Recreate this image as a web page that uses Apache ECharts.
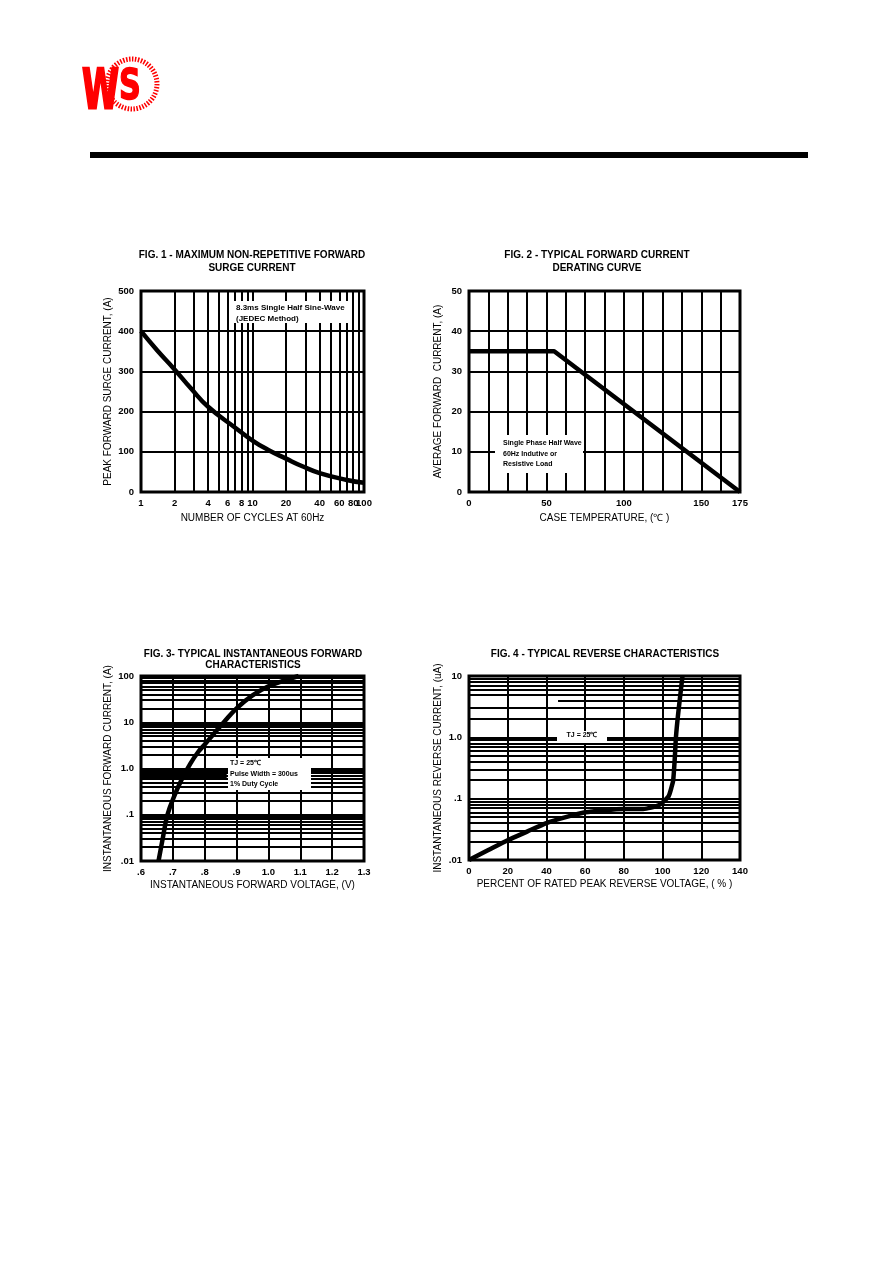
<!DOCTYPE html>
<html>
<head>
<meta charset="utf-8">
<title>WS - characteristic curves</title>
<script src="https://cdn.jsdelivr.net/npm/echarts@6/dist/echarts.min.js"></script>
<style>
html, body { margin: 0; padding: 0; background: #fff; }
#main { width: 892px; height: 1263px; }
</style>
</head>
<body>
<div id="main"></div>
<script>
// FIG.1 surge current vs number of cycles
var surgeCycles = [1, 1.4, 2, 2.8, 4, 7, 10, 14, 20, 28, 40, 70, 100];
var surgeAmps   = [400, 352, 305, 258, 212, 160, 128, 104, 83, 64, 47, 30, 23];
var fig1XLabels = [1, 2, 4, 6, 8, 10, 20, 40, 60, 80, 100];
var fig1MinorX  = [2, 3, 4, 5, 6, 7, 8, 9, 20, 30, 40, 50, 60, 70, 80, 90];

// FIG.2 derating curve
var caseTemp  = [0, 55, 175];
var avgAmps   = [35, 35, 0];
var fig2XLabels = [0, 50, 100, 150, 175];

// FIG.3 forward characteristics
var fwdVolts = [0.655, 0.668, 0.683, 0.705, 0.73, 0.755, 0.78, 0.80, 0.83, 0.86, 0.90, 0.95, 1.0, 1.05, 1.095];
var fwdAmps  = [0.01, 0.03, 0.1, 0.26, 0.62, 1.28, 2.3, 3.3, 5.8, 10, 20, 38, 60, 80, 100];
var fig3YLabels = { '0.01': '.01', '0.1': '.1', '1': '1.0', '10': '10', '100': '100' };

// FIG.4 reverse characteristics
var revPercent = [0, 10, 20, 30, 40, 50, 60, 70, 80, 90, 98, 103, 104.7, 105.5, 106.3, 106.9, 108.1, 110.3];
var revMicroA  = [0.01, 0.0145, 0.021, 0.029, 0.04, 0.05, 0.06, 0.065, 0.068, 0.068, 0.078, 0.108, 0.157, 0.2, 0.45, 1.0, 2.5, 10];
var fig4YLabels = { '0.01': '.01', '0.1': '.1', '1': '1.0', '10': '10' };

var FONT = "'Liberation Sans', Arial, sans-serif";
var INK = '#000';

function logMinors(decades, skip) {
    var out = [];
    decades.forEach(function (d) {
        for (var k = 2; k <= 9; k++) {
            var v = +(k * d).toPrecision(3);
            if (skip && skip.indexOf(v) >= 0) continue;
            out.push(v);
        }
    });
    return out;
}

function gridMarks(list, dim) {
    return list.map(function (v) {
        var o = {};
        o[dim] = v;
        return o;
    });
}

var markBase = {
    silent: true,
    symbol: 'none',
    animation: false,
    label: { show: false },
    lineStyle: { color: INK, width: 2, type: 'solid', opacity: 1 },
    emphasis: { disabled: true }
};

function axisLabelStyle(extra) {
    var o = { color: INK, fontFamily: FONT, fontWeight: 'bold', fontSize: 9.5 };
    for (var k in extra) o[k] = extra[k];
    return o;
}
function nameStyle() {
    return { color: INK, fontFamily: FONT, fontSize: 10, fontWeight: 'normal' };
}
var splitBlack = { show: true, lineStyle: { color: INK, width: 2 } };

// fig1 vertical minor lines, some with labels under the axis
var fig1Marks = fig1MinorX.map(function (v) {
    var lab = fig1XLabels.indexOf(v) >= 0;
    return {
        xAxis: v,
        label: {
            show: lab, position: 'start', formatter: String(v), distance: 6,
            color: INK, fontFamily: FONT, fontWeight: 'bold', fontSize: 9.5
        }
    };
});

var fig4Minor = gridMarks(logMinors([0.01, 0.1, 1], [4]), 'yAxis');
fig4Minor.push([{ coord: [46, 4] }, { coord: [140, 4] }]);

var chart = echarts.init(document.getElementById('main'));

var option = {
    animation: false,
    backgroundColor: '#fff',
    grid: [
        { left: 141, top: 291, width: 223, height: 201, show: true, borderColor: INK, borderWidth: 3, backgroundColor: 'transparent' },
        { left: 469, top: 291, width: 271, height: 201, show: true, borderColor: INK, borderWidth: 3, backgroundColor: 'transparent' },
        { left: 141, top: 676, width: 223, height: 185, show: true, borderColor: INK, borderWidth: 3, backgroundColor: 'transparent' },
        { left: 469, top: 676, width: 271, height: 184, show: true, borderColor: INK, borderWidth: 3, backgroundColor: 'transparent' }
    ],
    xAxis: [
        {
            gridIndex: 0, type: 'log', logBase: 10, min: 1, max: 100,
            axisLine: { show: false }, axisTick: { show: false },
            splitLine: splitBlack,
            axisLabel: axisLabelStyle({ margin: 6 }),
            name: 'NUMBER OF CYCLES AT 60Hz', nameLocation: 'middle', nameGap: 21, nameTextStyle: nameStyle()
        },
        {
            gridIndex: 1, type: 'value', min: 0, max: 175, interval: 12.5,
            axisLine: { show: false }, axisTick: { show: false },
            splitLine: splitBlack,
            axisLabel: axisLabelStyle({
                margin: 6,
                formatter: function (v) { return fig2XLabels.indexOf(v) >= 0 ? String(v) : ''; }
            }),
            name: 'CASE TEMPERATURE, (\u2103 )', nameLocation: 'middle', nameGap: 21, nameTextStyle: nameStyle()
        },
        {
            gridIndex: 2, type: 'value', min: 0.6, max: 1.3, interval: 0.1,
            axisLine: { show: false }, axisTick: { show: false },
            splitLine: splitBlack,
            axisLabel: axisLabelStyle({
                margin: 6,
                formatter: function (v) { var s = v.toFixed(1); return v < 1 ? s.slice(1) : s; }
            }),
            name: 'INSTANTANEOUS FORWARD VOLTAGE, (V)', nameLocation: 'middle', nameGap: 19, nameTextStyle: nameStyle()
        },
        {
            gridIndex: 3, type: 'value', min: 0, max: 140, interval: 20,
            axisLine: { show: false }, axisTick: { show: false },
            splitLine: splitBlack,
            axisLabel: axisLabelStyle({ margin: 6 }),
            name: 'PERCENT OF RATED PEAK REVERSE VOLTAGE, ( % )', nameLocation: 'middle', nameGap: 19, nameTextStyle: nameStyle()
        }
    ],
    yAxis: [
        {
            gridIndex: 0, type: 'value', min: 0, max: 500, interval: 100,
            axisLine: { show: false }, axisTick: { show: false },
            splitLine: splitBlack,
            axisLabel: axisLabelStyle({ margin: 7 }),
            name: 'PEAK FORWARD SURGE CURRENT, (A)', nameLocation: 'middle', nameGap: 28, nameTextStyle: nameStyle()
        },
        {
            gridIndex: 1, type: 'value', min: 0, max: 50, interval: 10,
            axisLine: { show: false }, axisTick: { show: false },
            splitLine: splitBlack,
            axisLabel: axisLabelStyle({ margin: 7 }),
            name: 'AVERAGE FORWARD  CURRENT, (A)', nameLocation: 'middle', nameGap: 26, nameTextStyle: nameStyle()
        },
        {
            gridIndex: 2, type: 'log', logBase: 10, min: 0.01, max: 100,
            axisLine: { show: false }, axisTick: { show: false },
            splitLine: splitBlack,
            axisLabel: axisLabelStyle({
                margin: 7,
                formatter: function (v) { return fig3YLabels[String(+v.toPrecision(3))] || ''; }
            }),
            name: 'INSTANTANEOUS FORWARD CURRENT, (A)', nameLocation: 'middle', nameGap: 28, nameTextStyle: nameStyle()
        },
        {
            gridIndex: 3, type: 'log', logBase: 10, min: 0.01, max: 10,
            axisLine: { show: false }, axisTick: { show: false },
            splitLine: splitBlack,
            axisLabel: axisLabelStyle({
                margin: 7,
                formatter: function (v) { return fig4YLabels[String(+v.toPrecision(3))] || ''; }
            }),
            name: 'INSTANTANEOUS REVERSE CURRENT, (uA)', nameLocation: 'middle', nameGap: 26, nameTextStyle: nameStyle()
        }
    ],
    series: [
        {
            type: 'line', xAxisIndex: 0, yAxisIndex: 0, z: 5,
            data: surgeCycles.map(function (c, i) { return [c, surgeAmps[i]]; }),
            showSymbol: false, smooth: 0.5,
            lineStyle: { color: INK, width: 4.5 },
            markLine: Object.assign({}, markBase, { data: fig1Marks })
        },
        {
            type: 'line', xAxisIndex: 1, yAxisIndex: 1, z: 5,
            data: caseTemp.map(function (t, i) { return [t, avgAmps[i]]; }),
            showSymbol: false,
            lineStyle: { color: INK, width: 4.5 }
        },
        {
            type: 'line', xAxisIndex: 2, yAxisIndex: 2, z: 5,
            data: fwdVolts.map(function (v, i) { return [v, fwdAmps[i]]; }),
            showSymbol: false, smooth: 0.4,
            lineStyle: { color: INK, width: 4.5 },
            markLine: Object.assign({}, markBase, { data: gridMarks(logMinors([0.01, 0.1, 1, 10]), 'yAxis') }),
            markArea: {
                silent: true,
                itemStyle: { color: INK, opacity: 1 },
                data: [[{ coord: [0.6, 0.57] }, { coord: [0.869, 1.0] }]]
            }
        },
        {
            type: 'line', xAxisIndex: 3, yAxisIndex: 3, z: 5,
            data: revPercent.map(function (p, i) { return [p, revMicroA[i]]; }),
            showSymbol: false, smooth: 0.2,
            lineStyle: { color: INK, width: 4.5 },
            markLine: Object.assign({}, markBase, { data: fig4Minor })
        }
    ],
    graphic: [
        // logo
        { type: 'circle', shape: { cx: 132, cy: 84, r: 25 }, style: { fill: 'none', stroke: '#f00', lineWidth: 5, lineDash: [1.5, 1.5] }, z: 10 },
        { type: 'text', x: 82, y: 65, scaleX: 0.6, style: { text: 'W', fill: '#f00', stroke: '#f00', lineWidth: 2.5, font: "900 56px 'DejaVu Sans', sans-serif" }, z: 11 },
        { type: 'text', x: 119, y: 67, scaleX: 0.72, style: { text: 'S', fill: '#f00', stroke: '#f00', lineWidth: 1.5, font: "900 42px 'DejaVu Sans', sans-serif" }, z: 11 },
        // header bar
        { type: 'rect', shape: { x: 90, y: 152, width: 718, height: 6 }, style: { fill: INK }, z: 10 },

        // titles
        { type: 'text', x: 252, y: 249, style: { text: 'FIG. 1 - MAXIMUM NON-REPETITIVE FORWARD\nSURGE CURRENT', align: 'center', fill: INK, font: "bold 10px " + FONT, lineHeight: 13 }, z: 10 },
        { type: 'text', x: 597, y: 249, style: { text: 'FIG. 2 - TYPICAL FORWARD CURRENT\nDERATING CURVE', align: 'center', fill: INK, font: "bold 10px " + FONT, lineHeight: 13 }, z: 10 },
        { type: 'text', x: 253, y: 649, style: { text: 'FIG. 3- TYPICAL INSTANTANEOUS FORWARD\nCHARACTERISTICS', align: 'center', fill: INK, font: "bold 10px " + FONT, lineHeight: 11 }, z: 10 },
        { type: 'text', x: 605, y: 649, style: { text: 'FIG. 4 - TYPICAL REVERSE CHARACTERISTICS', align: 'center', fill: INK, font: "bold 10px " + FONT }, z: 10 },

        // annotation boxes
        { type: 'rect', shape: { x: 232, y: 301, width: 120, height: 22 }, style: { fill: '#fff' }, z: 20 },
        { type: 'text', x: 236, y: 302, style: { text: '8.3ms Single Half Sine-Wave\n(JEDEC Method)', fill: INK, font: "bold 8px " + FONT, lineHeight: 11 }, z: 21 },

        { type: 'rect', shape: { x: 495, y: 435, width: 88, height: 38 }, style: { fill: '#fff' }, z: 20 },
        { type: 'text', x: 503, y: 438, style: { text: 'Single Phase Half Wave\n60Hz Indutive or\nResistive Load', fill: INK, font: "bold 7px " + FONT, lineHeight: 10.5 }, z: 21 },

        { type: 'rect', shape: { x: 228, y: 758, width: 83, height: 32 }, style: { fill: '#fff' }, z: 20 },
        { type: 'text', x: 230, y: 758, style: { text: 'TJ = 25\u2103\nPulse Width = 300us\n1% Duty Cycle', fill: INK, font: "bold 7px " + FONT, lineHeight: 10.5 }, z: 21 },

        { type: 'rect', shape: { x: 557, y: 731, width: 50, height: 12 }, style: { fill: '#fff' }, z: 20 },
        { type: 'text', x: 582, y: 732, style: { text: 'TJ = 25\u2103', align: 'center', fill: INK, font: "bold 7px " + FONT }, z: 21 }
    ]
};

chart.setOption(option);
</script>
</body>
</html>
